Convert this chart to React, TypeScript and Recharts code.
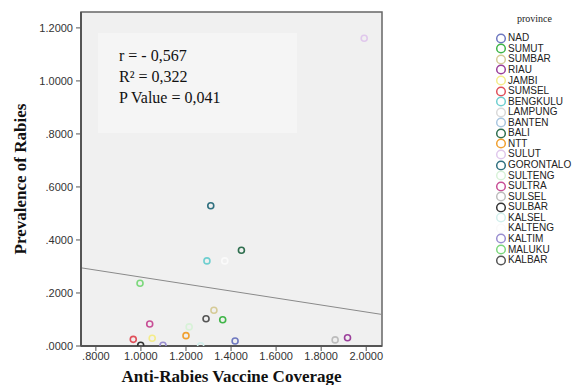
import {
  ScatterChart,
  Scatter,
  XAxis,
  YAxis,
  CartesianGrid,
  ReferenceLine,
  ReferenceArea,
  Legend,
} from "recharts";

const PROVINCES = [
  "NAD", "SUMUT", "SUMBAR", "RIAU", "JAMBI", "SUMSEL", "BENGKULU", "LAMPUNG",
  "BANTEN", "BALI", "NTT", "SULUT", "GORONTALO", "SULTENG", "SULTRA", "SULSEL",
  "SULBAR", "KALSEL", "KALTENG", "KALTIM", "MALUKU", "KALBAR",
];

const COLORS = [
  "#6f79c0", "#3fb548", "#d6cb98", "#9b3f9b", "#f4ec8a", "#e0505a", "#6fcfd0", "#d9d9d9",
  "#a9c6e0", "#2e6e4e", "#f0a030", "#e0c8ec", "#30707f", "#d8f2d8", "#c84f96", "#bdbdbd",
  "#333333", "#d2efec", "#fafafa", "#9a8fd0", "#7cd87c", "#555555",
];

// vaccine coverage (x) and prevalence (y) per province, null = no point visible
const COVERAGE = [
  1.418, 1.363, 1.324, 1.917, 1.05, 0.966, 1.293, null,
  null, 1.446, 1.2, 1.991, 1.31, 1.214, 1.039, 1.862,
  0.999, 1.265, 1.372, 1.098, 0.996, 1.289,
];
const PREVALENCE = [
  0.019, 0.099, 0.135, 0.031, 0.029, 0.025, 0.321, null,
  null, 0.361, 0.039, 1.161, 0.529, 0.072, 0.083, 0.023,
  0.003, 0.001, 0.321, 0.003, 0.237, 0.103,
];

const X_TICKS = [0.8, 1.0, 1.2, 1.4, 1.6, 1.8, 2.0];
const X_LABELS = [".8000", "1.0000", "1.2000", "1.4000", "1.6000", "1.8000", "2.0000"];
const Y_TICKS = [0, 0.2, 0.4, 0.6, 0.8, 1.0, 1.2];
const Y_LABELS = [".0000", ".2000", ".4000", ".6000", ".8000", "1.0000", "1.2000"];

const X_DOMAIN = [0.734, 2.07];
const Y_DOMAIN = [0, 1.26];

// fit line end points
const FIT_X = [0.734, 2.07];
const FIT_Y = [0.295, 0.119];

const STATS = ["r = - 0,567", "R² = 0,322", "P Value = 0,041"];

const points = PROVINCES.map((p, i) => ({
  name: p,
  color: COLORS[i],
  x: COVERAGE[i],
  y: PREVALENCE[i],
})).filter((d) => d.x !== null);

const TICK_STYLE = { fontSize: 11, fill: "#333", fontFamily: "'Liberation Sans', Arial, sans-serif" };
const AXIS_LINE = { stroke: "#555", strokeWidth: 2 };

function Ring(props: any) {
  const { cx, cy, payload } = props;
  return <circle cx={cx} cy={cy} r={3} fill="none" stroke={payload.color} strokeWidth={1.6} />;
}

function ProvinceLegend() {
  return (
    <div style={{ fontFamily: "'Liberation Sans', Arial, sans-serif" }}>
      <div
        style={{
          fontFamily: "'Liberation Serif', 'Times New Roman', serif",
          fontSize: 10,
          color: "#222",
          marginLeft: 22,
          height: 22,
          lineHeight: "16px",
        }}
      >
        province
      </div>
      {PROVINCES.map((p, i) => (
        <div key={p} style={{ display: "flex", alignItems: "center", height: 10.57 }}>
          <svg width={13} height={11} style={{ display: "block", flex: "none" }}>
            <circle cx={6} cy={5.5} r={4.3} fill="none" stroke={COLORS[i]} strokeWidth={1.5} />
          </svg>
          <span style={{ fontSize: 10, color: "#222", lineHeight: "10px", whiteSpace: "nowrap" }}>{p}</span>
        </div>
      ))}
    </div>
  );
}

export default function App() {
  return (
    <div style={{ position: "absolute", left: 0, top: 0, width: 578, height: 385, background: "#fff" }}>
      <ScatterChart width={578} height={385} margin={{ top: 12, right: 113, bottom: 0, left: 0 }}>
        <CartesianGrid fill="#f0f0f0" horizontal={false} vertical={false} />
        <XAxis
          type="number"
          dataKey="x"
          domain={X_DOMAIN}
          ticks={X_TICKS}
          allowDataOverflow
          height={39}
          tickSize={5}
          tickMargin={1}
          tick={TICK_STYLE}
          tickLine={{ stroke: "#555" }}
          axisLine={AXIS_LINE}
          tickFormatter={(v) => X_LABELS[X_TICKS.indexOf(v)]}
          label={{
            value: "Anti-Rabies Vaccine Coverage",
            position: "insideBottom",
            offset: 3,
            style: {
              fontFamily: "'Liberation Serif', 'Times New Roman', serif",
              fontWeight: "bold",
              fontSize: 17,
              fill: "#111",
            },
          }}
        />
        <YAxis
          type="number"
          dataKey="y"
          domain={Y_DOMAIN}
          ticks={Y_TICKS}
          allowDataOverflow
          width={81}
          tickSize={5}
          tickMargin={3}
          tick={TICK_STYLE}
          tickLine={{ stroke: "#555" }}
          axisLine={AXIS_LINE}
          tickFormatter={(v) => Y_LABELS[Y_TICKS.indexOf(v)]}
          label={{
            value: "Prevalence of Rabies",
            angle: -90,
            position: "insideLeft",
            offset: 20,
            style: {
              textAnchor: "middle",
              fontFamily: "'Liberation Serif', 'Times New Roman', serif",
              fontWeight: "bold",
              fontSize: 17,
              fill: "#111",
            },
          }}
        />
        <ReferenceArea
          x1={X_DOMAIN[0]}
          x2={X_DOMAIN[1]}
          y1={Y_DOMAIN[0]}
          y2={Y_DOMAIN[1]}
          fill="none"
          stroke="#666"
          strokeWidth={1.5}
        />
        <ReferenceLine
          segment={[
            { x: FIT_X[0], y: FIT_Y[0] },
            { x: FIT_X[1], y: FIT_Y[1] },
          ]}
          stroke="#8a8a8a"
          strokeWidth={1}
        />
        <Scatter data={points} shape={Ring} isAnimationActive={false} />
        <Legend
          layout="vertical"
          verticalAlign="top"
          align="right"
          content={() => <ProvinceLegend />}
          wrapperStyle={{ left: 495, top: 11, width: 83 }}
        />
      </ScatterChart>
      <div
        style={{
          position: "absolute",
          left: 98,
          top: 33,
          width: 199,
          height: 100,
          background: "#f5f5f5",
          fontFamily: "'Liberation Serif', 'Times New Roman', serif",
          fontSize: 16,
          color: "#111",
          boxSizing: "border-box",
          paddingLeft: 21,
          paddingTop: 12,
          lineHeight: "21px",
        }}
      >
        {STATS.map((s) => (
          <div key={s}>{s}</div>
        ))}
      </div>
    </div>
  );
}
